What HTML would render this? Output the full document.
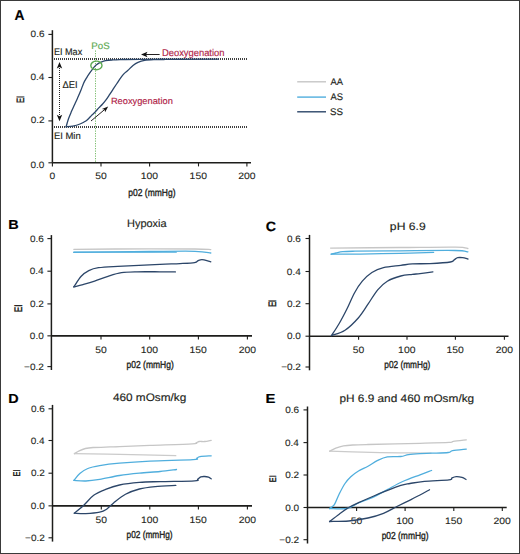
<!DOCTYPE html>
<html><head><meta charset="utf-8"><style>
html,body{margin:0;padding:0;background:#fff;}
#fig{position:relative;width:520px;height:554px;box-sizing:border-box;border:1px solid #3a3a3a;background:#fff;overflow:hidden;}
svg{position:absolute;left:-1px;top:-1px;}
text{font-family:"Liberation Sans", sans-serif;text-rendering:geometricPrecision;}
</style></head><body>
<div id="fig"><svg width="520" height="554" viewBox="0 0 520 554">
<text x="14.53" y="20.20" font-size="14.33" font-weight="bold" fill="#000" stroke="#000" stroke-width="0.15" textLength="9.96" lengthAdjust="spacingAndGlyphs">A</text>
<line x1="52.40" y1="30.20" x2="52.40" y2="162.80" stroke="#1d1d1b" stroke-width="1.5"/>
<line x1="48.40" y1="34.40" x2="52.40" y2="34.40" stroke="#1d1d1b" stroke-width="1.1"/>
<text x="30.60" y="36.90" font-size="9.38" fill="#231f20" stroke="#231f20" stroke-width="0.1" textLength="13.89" lengthAdjust="spacingAndGlyphs">0.6</text>
<line x1="48.40" y1="77.50" x2="52.40" y2="77.50" stroke="#1d1d1b" stroke-width="1.1"/>
<text x="30.45" y="80.00" font-size="9.38" fill="#231f20" stroke="#231f20" stroke-width="0.1" textLength="13.89" lengthAdjust="spacingAndGlyphs">0.4</text>
<line x1="48.40" y1="120.90" x2="52.40" y2="120.90" stroke="#1d1d1b" stroke-width="1.1"/>
<text x="30.66" y="123.30" font-size="9.38" fill="#231f20" stroke="#231f20" stroke-width="0.1" textLength="13.89" lengthAdjust="spacingAndGlyphs">0.2</text>
<line x1="48.40" y1="162.80" x2="52.40" y2="162.80" stroke="#1d1d1b" stroke-width="1.1"/>
<text x="30.55" y="167.70" font-size="9.38" fill="#231f20" stroke="#231f20" stroke-width="0.1" textLength="13.89" lengthAdjust="spacingAndGlyphs">0.0</text>
<line x1="52.40" y1="162.80" x2="251.00" y2="162.80" stroke="#1d1d1b" stroke-width="1.6"/>
<line x1="52.40" y1="162.80" x2="52.40" y2="166.40" stroke="#1d1d1b" stroke-width="1.1"/>
<text x="49.55" y="178.70" font-size="9.38" fill="#231f20" stroke="#231f20" stroke-width="0.1" textLength="5.70" lengthAdjust="spacingAndGlyphs">0</text>
<line x1="101.00" y1="162.80" x2="101.00" y2="166.40" stroke="#1d1d1b" stroke-width="1.1"/>
<text x="95.24" y="178.70" font-size="9.38" fill="#231f20" stroke="#231f20" stroke-width="0.1" textLength="11.52" lengthAdjust="spacingAndGlyphs">50</text>
<line x1="149.60" y1="162.80" x2="149.60" y2="166.40" stroke="#1d1d1b" stroke-width="1.1"/>
<text x="140.74" y="178.70" font-size="9.38" fill="#231f20" stroke="#231f20" stroke-width="0.1" textLength="17.33" lengthAdjust="spacingAndGlyphs">100</text>
<line x1="198.50" y1="162.80" x2="198.50" y2="166.40" stroke="#1d1d1b" stroke-width="1.1"/>
<text x="189.64" y="178.70" font-size="9.38" fill="#231f20" stroke="#231f20" stroke-width="0.1" textLength="17.33" lengthAdjust="spacingAndGlyphs">150</text>
<line x1="246.90" y1="162.80" x2="246.90" y2="166.40" stroke="#1d1d1b" stroke-width="1.1"/>
<text x="238.18" y="178.70" font-size="9.38" fill="#231f20" stroke="#231f20" stroke-width="0.1" textLength="17.33" lengthAdjust="spacingAndGlyphs">200</text>
<text x="128.33" y="195.50" font-size="10.09" fill="#231f20" stroke="#231f20" stroke-width="0.35" textLength="47.22" lengthAdjust="spacingAndGlyphs">p02 (mmHg)</text>
<text transform="translate(24.07,103.00) rotate(-90)" x="0" y="0" font-size="10.58" fill="#231f20" stroke="#231f20" stroke-width="0.45" textLength="7.17" lengthAdjust="spacingAndGlyphs">EI</text>
<path d="M54.00,58.20h1.0v1.6h-1.0zM56.00,58.20h1.0v1.6h-1.0zM58.00,58.20h1.0v1.6h-1.0zM60.00,58.20h1.0v1.6h-1.0zM62.00,58.20h1.0v1.6h-1.0zM64.00,58.20h1.0v1.6h-1.0zM66.00,58.20h1.0v1.6h-1.0zM68.00,58.20h1.0v1.6h-1.0zM70.00,58.20h1.0v1.6h-1.0zM72.00,58.20h1.0v1.6h-1.0zM74.00,58.20h1.0v1.6h-1.0zM76.00,58.20h1.0v1.6h-1.0zM78.00,58.20h1.0v1.6h-1.0zM80.00,58.20h1.0v1.6h-1.0zM82.00,58.20h1.0v1.6h-1.0zM84.00,58.20h1.0v1.6h-1.0zM86.00,58.20h1.0v1.6h-1.0zM88.00,58.20h1.0v1.6h-1.0zM90.00,58.20h1.0v1.6h-1.0zM92.00,58.20h1.0v1.6h-1.0zM94.00,58.20h1.0v1.6h-1.0zM96.00,58.20h1.0v1.6h-1.0zM98.00,58.20h1.0v1.6h-1.0zM100.00,58.20h1.0v1.6h-1.0zM102.00,58.20h1.0v1.6h-1.0zM104.00,58.20h1.0v1.6h-1.0zM106.00,58.20h1.0v1.6h-1.0zM108.00,58.20h1.0v1.6h-1.0zM110.00,58.20h1.0v1.6h-1.0zM112.00,58.20h1.0v1.6h-1.0zM114.00,58.20h1.0v1.6h-1.0zM116.00,58.20h1.0v1.6h-1.0zM118.00,58.20h1.0v1.6h-1.0zM120.00,58.20h1.0v1.6h-1.0zM122.00,58.20h1.0v1.6h-1.0zM124.00,58.20h1.0v1.6h-1.0zM126.00,58.20h1.0v1.6h-1.0zM128.00,58.20h1.0v1.6h-1.0zM130.00,58.20h1.0v1.6h-1.0zM132.00,58.20h1.0v1.6h-1.0zM134.00,58.20h1.0v1.6h-1.0zM136.00,58.20h1.0v1.6h-1.0zM138.00,58.20h1.0v1.6h-1.0zM140.00,58.20h1.0v1.6h-1.0zM142.00,58.20h1.0v1.6h-1.0zM144.00,58.20h1.0v1.6h-1.0zM146.00,58.20h1.0v1.6h-1.0zM148.00,58.20h1.0v1.6h-1.0zM150.00,58.20h1.0v1.6h-1.0zM152.00,58.20h1.0v1.6h-1.0zM154.00,58.20h1.0v1.6h-1.0zM156.00,58.20h1.0v1.6h-1.0zM158.00,58.20h1.0v1.6h-1.0zM160.00,58.20h1.0v1.6h-1.0zM162.00,58.20h1.0v1.6h-1.0zM164.00,58.20h1.0v1.6h-1.0zM166.00,58.20h1.0v1.6h-1.0zM168.00,58.20h1.0v1.6h-1.0zM170.00,58.20h1.0v1.6h-1.0zM172.00,58.20h1.0v1.6h-1.0zM174.00,58.20h1.0v1.6h-1.0zM176.00,58.20h1.0v1.6h-1.0zM178.00,58.20h1.0v1.6h-1.0zM180.00,58.20h1.0v1.6h-1.0zM182.00,58.20h1.0v1.6h-1.0zM184.00,58.20h1.0v1.6h-1.0zM186.00,58.20h1.0v1.6h-1.0zM188.00,58.20h1.0v1.6h-1.0zM190.00,58.20h1.0v1.6h-1.0zM192.00,58.20h1.0v1.6h-1.0zM194.00,58.20h1.0v1.6h-1.0zM196.00,58.20h1.0v1.6h-1.0zM198.00,58.20h1.0v1.6h-1.0zM200.00,58.20h1.0v1.6h-1.0zM202.00,58.20h1.0v1.6h-1.0zM204.00,58.20h1.0v1.6h-1.0zM206.00,58.20h1.0v1.6h-1.0zM208.00,58.20h1.0v1.6h-1.0zM210.00,58.20h1.0v1.6h-1.0zM212.00,58.20h1.0v1.6h-1.0zM214.00,58.20h1.0v1.6h-1.0zM216.00,58.20h1.0v1.6h-1.0zM218.00,58.20h1.0v1.6h-1.0zM220.00,58.20h1.0v1.6h-1.0zM222.00,58.20h1.0v1.6h-1.0zM224.00,58.20h1.0v1.6h-1.0zM226.00,58.20h1.0v1.6h-1.0zM228.00,58.20h1.0v1.6h-1.0zM230.00,58.20h1.0v1.6h-1.0zM232.00,58.20h1.0v1.6h-1.0zM234.00,58.20h1.0v1.6h-1.0zM236.00,58.20h1.0v1.6h-1.0zM238.00,58.20h1.0v1.6h-1.0zM240.00,58.20h1.0v1.6h-1.0zM242.00,58.20h1.0v1.6h-1.0zM244.00,58.20h1.0v1.6h-1.0zM246.00,58.20h1.0v1.6h-1.0z" fill="#000"/>
<path d="M54.00,126.20h1.0v1.6h-1.0zM56.00,126.20h1.0v1.6h-1.0zM58.00,126.20h1.0v1.6h-1.0zM60.00,126.20h1.0v1.6h-1.0zM62.00,126.20h1.0v1.6h-1.0zM64.00,126.20h1.0v1.6h-1.0zM66.00,126.20h1.0v1.6h-1.0zM68.00,126.20h1.0v1.6h-1.0zM70.00,126.20h1.0v1.6h-1.0zM72.00,126.20h1.0v1.6h-1.0zM74.00,126.20h1.0v1.6h-1.0zM76.00,126.20h1.0v1.6h-1.0zM78.00,126.20h1.0v1.6h-1.0zM80.00,126.20h1.0v1.6h-1.0zM82.00,126.20h1.0v1.6h-1.0zM84.00,126.20h1.0v1.6h-1.0zM86.00,126.20h1.0v1.6h-1.0zM88.00,126.20h1.0v1.6h-1.0zM90.00,126.20h1.0v1.6h-1.0zM92.00,126.20h1.0v1.6h-1.0zM94.00,126.20h1.0v1.6h-1.0zM96.00,126.20h1.0v1.6h-1.0zM98.00,126.20h1.0v1.6h-1.0zM100.00,126.20h1.0v1.6h-1.0zM102.00,126.20h1.0v1.6h-1.0zM104.00,126.20h1.0v1.6h-1.0zM106.00,126.20h1.0v1.6h-1.0zM108.00,126.20h1.0v1.6h-1.0zM110.00,126.20h1.0v1.6h-1.0zM112.00,126.20h1.0v1.6h-1.0zM114.00,126.20h1.0v1.6h-1.0zM116.00,126.20h1.0v1.6h-1.0zM118.00,126.20h1.0v1.6h-1.0zM120.00,126.20h1.0v1.6h-1.0zM122.00,126.20h1.0v1.6h-1.0zM124.00,126.20h1.0v1.6h-1.0zM126.00,126.20h1.0v1.6h-1.0zM128.00,126.20h1.0v1.6h-1.0zM130.00,126.20h1.0v1.6h-1.0zM132.00,126.20h1.0v1.6h-1.0zM134.00,126.20h1.0v1.6h-1.0zM136.00,126.20h1.0v1.6h-1.0zM138.00,126.20h1.0v1.6h-1.0zM140.00,126.20h1.0v1.6h-1.0zM142.00,126.20h1.0v1.6h-1.0zM144.00,126.20h1.0v1.6h-1.0zM146.00,126.20h1.0v1.6h-1.0zM148.00,126.20h1.0v1.6h-1.0zM150.00,126.20h1.0v1.6h-1.0zM152.00,126.20h1.0v1.6h-1.0zM154.00,126.20h1.0v1.6h-1.0zM156.00,126.20h1.0v1.6h-1.0zM158.00,126.20h1.0v1.6h-1.0zM160.00,126.20h1.0v1.6h-1.0zM162.00,126.20h1.0v1.6h-1.0zM164.00,126.20h1.0v1.6h-1.0zM166.00,126.20h1.0v1.6h-1.0zM168.00,126.20h1.0v1.6h-1.0zM170.00,126.20h1.0v1.6h-1.0zM172.00,126.20h1.0v1.6h-1.0zM174.00,126.20h1.0v1.6h-1.0zM176.00,126.20h1.0v1.6h-1.0zM178.00,126.20h1.0v1.6h-1.0zM180.00,126.20h1.0v1.6h-1.0zM182.00,126.20h1.0v1.6h-1.0zM184.00,126.20h1.0v1.6h-1.0zM186.00,126.20h1.0v1.6h-1.0zM188.00,126.20h1.0v1.6h-1.0zM190.00,126.20h1.0v1.6h-1.0zM192.00,126.20h1.0v1.6h-1.0zM194.00,126.20h1.0v1.6h-1.0zM196.00,126.20h1.0v1.6h-1.0zM198.00,126.20h1.0v1.6h-1.0zM200.00,126.20h1.0v1.6h-1.0zM202.00,126.20h1.0v1.6h-1.0zM204.00,126.20h1.0v1.6h-1.0zM206.00,126.20h1.0v1.6h-1.0zM208.00,126.20h1.0v1.6h-1.0zM210.00,126.20h1.0v1.6h-1.0zM212.00,126.20h1.0v1.6h-1.0zM214.00,126.20h1.0v1.6h-1.0zM216.00,126.20h1.0v1.6h-1.0zM218.00,126.20h1.0v1.6h-1.0zM220.00,126.20h1.0v1.6h-1.0zM222.00,126.20h1.0v1.6h-1.0zM224.00,126.20h1.0v1.6h-1.0zM226.00,126.20h1.0v1.6h-1.0zM228.00,126.20h1.0v1.6h-1.0zM230.00,126.20h1.0v1.6h-1.0zM232.00,126.20h1.0v1.6h-1.0zM234.00,126.20h1.0v1.6h-1.0zM236.00,126.20h1.0v1.6h-1.0zM238.00,126.20h1.0v1.6h-1.0zM240.00,126.20h1.0v1.6h-1.0zM242.00,126.20h1.0v1.6h-1.0zM244.00,126.20h1.0v1.6h-1.0zM246.00,126.20h1.0v1.6h-1.0z" fill="#000"/>
<path d="M95.00,50.50h1.0v1.2h-1.0zM95.00,53.00h1.0v1.2h-1.0zM95.00,55.50h1.0v1.2h-1.0zM95.00,58.00h1.0v1.2h-1.0zM95.00,60.50h1.0v1.2h-1.0zM95.00,63.00h1.0v1.2h-1.0zM95.00,65.50h1.0v1.2h-1.0zM95.00,68.00h1.0v1.2h-1.0zM95.00,70.50h1.0v1.2h-1.0zM95.00,73.00h1.0v1.2h-1.0zM95.00,75.50h1.0v1.2h-1.0zM95.00,78.00h1.0v1.2h-1.0zM95.00,80.50h1.0v1.2h-1.0zM95.00,83.00h1.0v1.2h-1.0zM95.00,85.50h1.0v1.2h-1.0zM95.00,88.00h1.0v1.2h-1.0zM95.00,90.50h1.0v1.2h-1.0zM95.00,93.00h1.0v1.2h-1.0zM95.00,95.50h1.0v1.2h-1.0zM95.00,98.00h1.0v1.2h-1.0zM95.00,100.50h1.0v1.2h-1.0zM95.00,103.00h1.0v1.2h-1.0zM95.00,105.50h1.0v1.2h-1.0zM95.00,108.00h1.0v1.2h-1.0zM95.00,110.50h1.0v1.2h-1.0zM95.00,113.00h1.0v1.2h-1.0zM95.00,115.50h1.0v1.2h-1.0zM95.00,118.00h1.0v1.2h-1.0zM95.00,120.50h1.0v1.2h-1.0zM95.00,123.00h1.0v1.2h-1.0zM95.00,125.50h1.0v1.2h-1.0zM95.00,128.00h1.0v1.2h-1.0zM95.00,130.50h1.0v1.2h-1.0zM95.00,133.00h1.0v1.2h-1.0zM95.00,135.50h1.0v1.2h-1.0zM95.00,138.00h1.0v1.2h-1.0zM95.00,140.50h1.0v1.2h-1.0zM95.00,143.00h1.0v1.2h-1.0zM95.00,145.50h1.0v1.2h-1.0zM95.00,148.00h1.0v1.2h-1.0zM95.00,150.50h1.0v1.2h-1.0zM95.00,153.00h1.0v1.2h-1.0zM95.00,155.50h1.0v1.2h-1.0zM95.00,158.00h1.0v1.2h-1.0zM95.00,160.50h1.0v1.2h-1.0z" fill="#7cbd6e"/>
<path d="M66.10,126.80C66.50,125.47 67.62,121.33 68.50,118.80C69.38,116.27 70.42,113.90 71.40,111.60C72.38,109.30 73.38,107.23 74.40,105.00C75.42,102.77 76.45,100.57 77.50,98.20C78.55,95.83 79.68,93.30 80.70,90.80C81.72,88.30 82.62,85.37 83.60,83.20C84.58,81.03 85.60,79.47 86.60,77.80C87.60,76.13 88.63,74.60 89.60,73.20C90.57,71.80 91.47,70.62 92.40,69.40C93.33,68.18 94.25,66.87 95.20,65.90C96.15,64.93 97.02,64.28 98.10,63.60C99.18,62.92 100.47,62.28 101.70,61.80C102.93,61.32 103.78,61.00 105.50,60.70C107.22,60.40 109.58,60.18 112.00,60.00C114.42,59.82 115.33,59.72 120.00,59.60C124.67,59.48 123.58,59.37 140.00,59.30C156.42,59.23 205.42,59.22 218.50,59.20" fill="none" stroke="#2c4669" stroke-width="1.3" stroke-linejoin="round" stroke-linecap="round"/>
<path d="M66.10,126.80C67.22,126.68 70.48,126.57 72.80,126.10C75.12,125.63 77.83,124.85 80.00,124.00C82.17,123.15 84.38,121.88 85.80,121.00C87.22,120.12 87.53,119.63 88.50,118.70C89.47,117.77 90.48,116.52 91.60,115.40C92.72,114.28 94.00,113.25 95.20,112.00C96.40,110.75 97.60,109.20 98.80,107.90C100.00,106.60 101.20,105.55 102.40,104.20C103.60,102.85 104.78,101.43 106.00,99.80C107.22,98.17 108.48,96.21 109.70,94.40C110.92,92.59 112.10,90.77 113.30,88.95C114.50,87.13 115.70,85.31 116.90,83.50C118.10,81.69 119.30,79.75 120.50,78.10C121.70,76.45 122.90,74.85 124.10,73.60C125.30,72.35 126.22,71.95 127.70,70.60C129.18,69.25 131.28,66.88 133.00,65.50C134.72,64.12 136.07,63.17 138.00,62.30C139.93,61.43 141.77,60.75 144.60,60.30C147.43,59.85 151.72,59.73 155.00,59.60C158.28,59.47 162.75,59.52 164.30,59.50" fill="none" stroke="#2c4669" stroke-width="1.3" stroke-linejoin="round" stroke-linecap="round"/>
<ellipse cx="96.4" cy="65.4" rx="5.6" ry="4.3" fill="none" stroke="#5caa52" stroke-width="1.4"/>
<text x="91.28" y="49.00" font-size="9.43" fill="#5caa52" stroke="#5caa52" stroke-width="0.15" textLength="18.40" lengthAdjust="spacingAndGlyphs">PoS</text>
<text x="53.93" y="55.40" font-size="9.63" fill="#231f20" stroke="#231f20" stroke-width="0.15" textLength="28.29" lengthAdjust="spacingAndGlyphs">EI Max</text>
<text x="53.90" y="138.80" font-size="9.43" fill="#231f20" stroke="#231f20" stroke-width="0.15" textLength="26.84" lengthAdjust="spacingAndGlyphs">EI Min</text>
<text x="62.60" y="87.50" font-size="9.73" fill="#231f20" stroke="#231f20" stroke-width="0.15" textLength="15.09" lengthAdjust="spacingAndGlyphs">ΔEI</text>
<text x="162.01" y="55.70" font-size="9.83" fill="#b01e48" stroke="#b01e48" stroke-width="0.15" textLength="62.43" lengthAdjust="spacingAndGlyphs">Deoxygenation</text>
<text x="110.91" y="104.20" font-size="9.13" fill="#b01e48" stroke="#b01e48" stroke-width="0.15" textLength="61.91" lengthAdjust="spacingAndGlyphs">Reoxygenation</text>
<path d="M59.00,66.00h1.0v1.0h-1.0zM59.00,68.00h1.0v1.0h-1.0zM59.00,70.00h1.0v1.0h-1.0zM59.00,72.00h1.0v1.0h-1.0zM59.00,74.00h1.0v1.0h-1.0zM59.00,76.00h1.0v1.0h-1.0zM59.00,78.00h1.0v1.0h-1.0zM59.00,80.00h1.0v1.0h-1.0zM59.00,82.00h1.0v1.0h-1.0zM59.00,84.00h1.0v1.0h-1.0zM59.00,86.00h1.0v1.0h-1.0zM59.00,88.00h1.0v1.0h-1.0zM59.00,90.00h1.0v1.0h-1.0zM59.00,92.00h1.0v1.0h-1.0zM59.00,94.00h1.0v1.0h-1.0zM59.00,96.00h1.0v1.0h-1.0zM59.00,98.00h1.0v1.0h-1.0zM59.00,100.00h1.0v1.0h-1.0zM59.00,102.00h1.0v1.0h-1.0zM59.00,104.00h1.0v1.0h-1.0zM59.00,106.00h1.0v1.0h-1.0zM59.00,108.00h1.0v1.0h-1.0zM59.00,110.00h1.0v1.0h-1.0zM59.00,112.00h1.0v1.0h-1.0zM59.00,114.00h1.0v1.0h-1.0z" fill="#222"/>
<path d="M59.5,62 L56.8,68.5 L59.5,67 L62.2,68.5 Z" fill="#111"/>
<path d="M59.5,121.3 L56.8,114.8 L59.5,116.3 L62.2,114.8 Z" fill="#111"/>
<line x1="144.00" y1="54.50" x2="159.60" y2="54.50" stroke="#231f20" stroke-width="1.0"/>
<path d="M141,54.5 L147.5,51.8 L146,54.5 L147.5,57.2 Z" fill="#111"/>
<line x1="91.00" y1="121.00" x2="105.50" y2="108.80" stroke="#231f20" stroke-width="1.0"/>
<path d="M108.2,106.5 L101.9,109.1 L104.6,109.6 L105.1,112.3 Z" fill="#111"/>
<line x1="297.20" y1="81.80" x2="326.00" y2="81.80" stroke="#c6c6c6" stroke-width="1.4"/>
<line x1="297.20" y1="97.10" x2="326.00" y2="97.10" stroke="#50aedd" stroke-width="1.4"/>
<line x1="297.20" y1="111.80" x2="326.00" y2="111.80" stroke="#2c4669" stroke-width="1.4"/>
<text x="330.46" y="84.70" font-size="9.63" fill="#231f20" stroke="#231f20" stroke-width="0.15" textLength="12.49" lengthAdjust="spacingAndGlyphs">AA</text>
<text x="330.46" y="99.50" font-size="9.63" fill="#231f20" stroke="#231f20" stroke-width="0.15" textLength="12.50" lengthAdjust="spacingAndGlyphs">AS</text>
<text x="330.03" y="114.50" font-size="9.63" fill="#231f20" stroke="#231f20" stroke-width="0.15" textLength="12.94" lengthAdjust="spacingAndGlyphs">SS</text>
<text x="8.30" y="228.80" font-size="13.03" font-weight="bold" fill="#000" stroke="#000" stroke-width="0.15" textLength="10.48" lengthAdjust="spacingAndGlyphs">B</text>
<line x1="51.40" y1="235.10" x2="51.40" y2="370.00" stroke="#1d1d1b" stroke-width="1.5"/>
<line x1="47.40" y1="238.60" x2="51.40" y2="238.60" stroke="#1d1d1b" stroke-width="1.1"/>
<text x="29.90" y="241.70" font-size="9.38" fill="#231f20" stroke="#231f20" stroke-width="0.1" textLength="13.89" lengthAdjust="spacingAndGlyphs">0.6</text>
<line x1="47.40" y1="271.20" x2="51.40" y2="271.20" stroke="#1d1d1b" stroke-width="1.1"/>
<text x="29.75" y="274.30" font-size="9.38" fill="#231f20" stroke="#231f20" stroke-width="0.1" textLength="13.89" lengthAdjust="spacingAndGlyphs">0.4</text>
<line x1="47.40" y1="303.90" x2="51.40" y2="303.90" stroke="#1d1d1b" stroke-width="1.1"/>
<text x="29.96" y="307.00" font-size="9.38" fill="#231f20" stroke="#231f20" stroke-width="0.1" textLength="13.89" lengthAdjust="spacingAndGlyphs">0.2</text>
<line x1="47.40" y1="335.85" x2="51.40" y2="335.85" stroke="#1d1d1b" stroke-width="1.1"/>
<text x="29.85" y="338.95" font-size="9.38" fill="#231f20" stroke="#231f20" stroke-width="0.1" textLength="13.89" lengthAdjust="spacingAndGlyphs">0.0</text>
<line x1="47.40" y1="366.60" x2="51.40" y2="366.60" stroke="#1d1d1b" stroke-width="1.1"/>
<text x="24.08" y="369.70" font-size="9.38" fill="#231f20" stroke="#231f20" stroke-width="0.1" textLength="19.77" lengthAdjust="spacingAndGlyphs">−0.2</text>
<line x1="51.40" y1="335.85" x2="252.00" y2="335.85" stroke="#1d1d1b" stroke-width="1.6"/>
<line x1="101.00" y1="335.85" x2="101.00" y2="339.45" stroke="#1d1d1b" stroke-width="1.1"/>
<text x="95.24" y="352.90" font-size="9.38" fill="#231f20" stroke="#231f20" stroke-width="0.1" textLength="11.52" lengthAdjust="spacingAndGlyphs">50</text>
<line x1="149.70" y1="335.85" x2="149.70" y2="339.45" stroke="#1d1d1b" stroke-width="1.1"/>
<text x="140.84" y="352.90" font-size="9.38" fill="#231f20" stroke="#231f20" stroke-width="0.1" textLength="17.33" lengthAdjust="spacingAndGlyphs">100</text>
<line x1="198.40" y1="335.85" x2="198.40" y2="339.45" stroke="#1d1d1b" stroke-width="1.1"/>
<text x="189.54" y="352.90" font-size="9.38" fill="#231f20" stroke="#231f20" stroke-width="0.1" textLength="17.33" lengthAdjust="spacingAndGlyphs">150</text>
<line x1="247.40" y1="335.85" x2="247.40" y2="339.45" stroke="#1d1d1b" stroke-width="1.1"/>
<text x="238.68" y="352.90" font-size="9.38" fill="#231f20" stroke="#231f20" stroke-width="0.1" textLength="17.33" lengthAdjust="spacingAndGlyphs">200</text>
<text x="126.53" y="368.00" font-size="10.09" fill="#231f20" stroke="#231f20" stroke-width="0.35" textLength="47.22" lengthAdjust="spacingAndGlyphs">p02 (mmHg)</text>
<text transform="translate(21.57,312.14) rotate(-90)" x="0" y="0" font-size="10.88" fill="#231f20" stroke="#231f20" stroke-width="0.45" textLength="7.66" lengthAdjust="spacingAndGlyphs">EI</text>
<text x="126.97" y="226.50" font-size="10.83" fill="#231f20" stroke="#231f20" stroke-width="0.15" textLength="39.65" lengthAdjust="spacingAndGlyphs">Hypoxia</text>
<path d="M73.80,249.30C86.50,249.22 129.80,248.85 150.00,248.80C170.20,248.75 184.87,248.87 195.00,249.00C205.13,249.13 208.17,249.50 210.80,249.60" fill="none" stroke="#c6c6c6" stroke-width="1.3" stroke-linejoin="round" stroke-linecap="round"/>
<path d="M73.80,252.20L176.20,252.20" fill="none" stroke="#50aedd" stroke-width="1.3" stroke-linejoin="round" stroke-linecap="round"/>
<path d="M73.80,252.40C86.50,252.25 129.80,251.68 150.00,251.50C170.20,251.32 184.87,251.05 195.00,251.30C205.13,251.55 208.17,252.72 210.80,253.00" fill="none" stroke="#50aedd" stroke-width="1.3" stroke-linejoin="round" stroke-linecap="round"/>
<path d="M73.80,286.90C75.03,285.13 78.70,279.02 81.20,276.30C83.70,273.58 85.92,272.03 88.80,270.60C91.68,269.17 93.68,268.42 98.50,267.70C103.32,266.98 107.45,266.85 117.70,266.30C127.95,265.75 149.62,264.85 160.00,264.40C170.38,263.95 174.23,263.90 180.00,263.60C185.77,263.30 191.63,263.07 194.60,262.60C197.57,262.13 196.82,261.27 197.80,260.80C198.78,260.33 199.47,259.95 200.50,259.80C201.53,259.65 202.28,259.55 204.00,259.90C205.72,260.25 209.67,261.57 210.80,261.90" fill="none" stroke="#2c4669" stroke-width="1.3" stroke-linejoin="round" stroke-linecap="round"/>
<path d="M73.80,286.90C75.33,286.52 79.53,285.55 83.00,284.60C86.47,283.65 90.43,282.58 94.60,281.20C98.77,279.82 103.52,277.72 108.00,276.30C112.48,274.88 116.67,273.45 121.50,272.70C126.33,271.95 130.58,271.95 137.00,271.80C143.42,271.65 153.60,271.78 160.00,271.80C166.40,271.82 172.83,271.88 175.40,271.90" fill="none" stroke="#2c4669" stroke-width="1.3" stroke-linejoin="round" stroke-linecap="round"/>
<text x="265.89" y="230.50" font-size="13.33" font-weight="bold" fill="#000" stroke="#000" stroke-width="0.15" textLength="10.33" lengthAdjust="spacingAndGlyphs">C</text>
<line x1="309.50" y1="234.90" x2="309.50" y2="370.30" stroke="#1d1d1b" stroke-width="1.5"/>
<line x1="305.50" y1="238.50" x2="309.50" y2="238.50" stroke="#1d1d1b" stroke-width="1.1"/>
<text x="287.00" y="241.60" font-size="9.38" fill="#231f20" stroke="#231f20" stroke-width="0.1" textLength="13.89" lengthAdjust="spacingAndGlyphs">0.6</text>
<line x1="305.50" y1="271.50" x2="309.50" y2="271.50" stroke="#1d1d1b" stroke-width="1.1"/>
<text x="286.85" y="274.60" font-size="9.38" fill="#231f20" stroke="#231f20" stroke-width="0.1" textLength="13.89" lengthAdjust="spacingAndGlyphs">0.4</text>
<line x1="305.50" y1="303.70" x2="309.50" y2="303.70" stroke="#1d1d1b" stroke-width="1.1"/>
<text x="287.06" y="306.80" font-size="9.38" fill="#231f20" stroke="#231f20" stroke-width="0.1" textLength="13.89" lengthAdjust="spacingAndGlyphs">0.2</text>
<line x1="305.50" y1="336.20" x2="309.50" y2="336.20" stroke="#1d1d1b" stroke-width="1.1"/>
<text x="286.95" y="339.30" font-size="9.38" fill="#231f20" stroke="#231f20" stroke-width="0.1" textLength="13.89" lengthAdjust="spacingAndGlyphs">0.0</text>
<line x1="305.50" y1="367.00" x2="309.50" y2="367.00" stroke="#1d1d1b" stroke-width="1.1"/>
<text x="281.18" y="370.10" font-size="9.38" fill="#231f20" stroke="#231f20" stroke-width="0.1" textLength="19.77" lengthAdjust="spacingAndGlyphs">−0.2</text>
<line x1="309.50" y1="336.20" x2="508.50" y2="336.20" stroke="#1d1d1b" stroke-width="1.6"/>
<line x1="358.60" y1="336.20" x2="358.60" y2="339.80" stroke="#1d1d1b" stroke-width="1.1"/>
<text x="352.84" y="353.20" font-size="9.38" fill="#231f20" stroke="#231f20" stroke-width="0.1" textLength="11.52" lengthAdjust="spacingAndGlyphs">50</text>
<line x1="407.00" y1="336.20" x2="407.00" y2="339.80" stroke="#1d1d1b" stroke-width="1.1"/>
<text x="398.14" y="353.20" font-size="9.38" fill="#231f20" stroke="#231f20" stroke-width="0.1" textLength="17.33" lengthAdjust="spacingAndGlyphs">100</text>
<line x1="455.40" y1="336.20" x2="455.40" y2="339.80" stroke="#1d1d1b" stroke-width="1.1"/>
<text x="446.54" y="353.20" font-size="9.38" fill="#231f20" stroke="#231f20" stroke-width="0.1" textLength="17.33" lengthAdjust="spacingAndGlyphs">150</text>
<line x1="504.40" y1="336.20" x2="504.40" y2="339.80" stroke="#1d1d1b" stroke-width="1.1"/>
<text x="495.68" y="353.20" font-size="9.38" fill="#231f20" stroke="#231f20" stroke-width="0.1" textLength="17.33" lengthAdjust="spacingAndGlyphs">200</text>
<text x="384.34" y="367.70" font-size="10.09" fill="#231f20" stroke="#231f20" stroke-width="0.35" textLength="46.00" lengthAdjust="spacingAndGlyphs">p02 (mmHg)</text>
<text transform="translate(275.57,307.12) rotate(-90)" x="0" y="0" font-size="10.78" fill="#231f20" stroke="#231f20" stroke-width="0.45" textLength="7.42" lengthAdjust="spacingAndGlyphs">EI</text>
<text x="389.89" y="229.90" font-size="10.73" fill="#231f20" stroke="#231f20" stroke-width="0.15" textLength="35.81" lengthAdjust="spacingAndGlyphs">pH 6.9</text>
<path d="M330.60,248.10C342.17,248.00 379.13,247.67 400.00,247.50C420.87,247.33 444.48,246.93 455.80,247.10C467.12,247.27 465.88,248.27 467.90,248.50" fill="none" stroke="#c6c6c6" stroke-width="1.3" stroke-linejoin="round" stroke-linecap="round"/>
<path d="M331.20,254.20C332.00,254.00 334.08,253.43 336.00,253.00C337.92,252.57 339.53,251.90 342.70,251.60C345.87,251.30 345.45,251.33 355.00,251.20C364.55,251.07 383.33,250.92 400.00,250.80C416.67,250.68 443.68,250.33 455.00,250.50C466.32,250.67 465.75,251.58 467.90,251.80" fill="none" stroke="#50aedd" stroke-width="1.3" stroke-linejoin="round" stroke-linecap="round"/>
<path d="M331.20,254.20C336.00,254.18 348.53,254.25 360.00,254.10C371.47,253.95 387.73,253.58 400.00,253.30C412.27,253.02 428.00,252.55 433.60,252.40" fill="none" stroke="#50aedd" stroke-width="1.3" stroke-linejoin="round" stroke-linecap="round"/>
<path d="M331.50,335.60C332.78,333.58 336.63,327.93 339.20,323.50C341.77,319.07 344.33,314.13 346.90,309.00C349.47,303.87 352.03,297.33 354.60,292.70C357.17,288.07 359.42,284.57 362.30,281.20C365.18,277.83 368.37,274.75 371.90,272.50C375.43,270.25 378.68,268.88 383.50,267.70C388.32,266.52 396.00,266.03 400.80,265.40C405.60,264.77 407.43,264.20 412.30,263.90C417.17,263.60 423.65,263.92 430.00,263.60C436.35,263.28 446.33,262.67 450.40,262.00C454.47,261.33 453.17,260.32 454.40,259.60C455.63,258.88 456.45,258.02 457.80,257.70C459.15,257.38 460.82,257.48 462.50,257.70C464.18,257.92 467.00,258.78 467.90,259.00" fill="none" stroke="#2c4669" stroke-width="1.3" stroke-linejoin="round" stroke-linecap="round"/>
<path d="M331.50,335.60C333.75,334.70 340.50,333.18 345.00,330.20C349.50,327.22 354.67,322.03 358.50,317.70C362.33,313.37 364.80,308.85 368.00,304.20C371.20,299.55 374.48,293.63 377.70,289.80C380.92,285.97 383.45,283.50 387.30,281.20C391.15,278.90 396.63,277.13 400.80,276.00C404.97,274.87 409.10,274.80 412.30,274.40C415.50,274.00 416.57,274.02 420.00,273.60C423.43,273.18 430.75,272.18 432.90,271.90" fill="none" stroke="#2c4669" stroke-width="1.3" stroke-linejoin="round" stroke-linecap="round"/>
<text x="8.31" y="402.80" font-size="13.03" font-weight="bold" fill="#000" stroke="#000" stroke-width="0.15" textLength="10.42" lengthAdjust="spacingAndGlyphs">D</text>
<line x1="52.50" y1="404.90" x2="52.50" y2="541.60" stroke="#1d1d1b" stroke-width="1.5"/>
<line x1="48.50" y1="408.80" x2="52.50" y2="408.80" stroke="#1d1d1b" stroke-width="1.1"/>
<text x="30.90" y="411.90" font-size="9.38" fill="#231f20" stroke="#231f20" stroke-width="0.1" textLength="13.89" lengthAdjust="spacingAndGlyphs">0.6</text>
<line x1="48.50" y1="440.50" x2="52.50" y2="440.50" stroke="#1d1d1b" stroke-width="1.1"/>
<text x="30.75" y="443.60" font-size="9.38" fill="#231f20" stroke="#231f20" stroke-width="0.1" textLength="13.89" lengthAdjust="spacingAndGlyphs">0.4</text>
<line x1="48.50" y1="473.20" x2="52.50" y2="473.20" stroke="#1d1d1b" stroke-width="1.1"/>
<text x="30.96" y="476.30" font-size="9.38" fill="#231f20" stroke="#231f20" stroke-width="0.1" textLength="13.89" lengthAdjust="spacingAndGlyphs">0.2</text>
<line x1="48.50" y1="505.85" x2="52.50" y2="505.85" stroke="#1d1d1b" stroke-width="1.1"/>
<text x="30.85" y="508.95" font-size="9.38" fill="#231f20" stroke="#231f20" stroke-width="0.1" textLength="13.89" lengthAdjust="spacingAndGlyphs">0.0</text>
<line x1="48.50" y1="537.80" x2="52.50" y2="537.80" stroke="#1d1d1b" stroke-width="1.1"/>
<text x="25.08" y="540.90" font-size="9.38" fill="#231f20" stroke="#231f20" stroke-width="0.1" textLength="19.77" lengthAdjust="spacingAndGlyphs">−0.2</text>
<line x1="52.50" y1="505.85" x2="252.00" y2="505.85" stroke="#1d1d1b" stroke-width="1.6"/>
<line x1="101.30" y1="505.85" x2="101.30" y2="509.45" stroke="#1d1d1b" stroke-width="1.1"/>
<text x="95.54" y="523.20" font-size="9.38" fill="#231f20" stroke="#231f20" stroke-width="0.1" textLength="11.52" lengthAdjust="spacingAndGlyphs">50</text>
<line x1="149.80" y1="505.85" x2="149.80" y2="509.45" stroke="#1d1d1b" stroke-width="1.1"/>
<text x="140.94" y="523.20" font-size="9.38" fill="#231f20" stroke="#231f20" stroke-width="0.1" textLength="17.33" lengthAdjust="spacingAndGlyphs">100</text>
<line x1="198.40" y1="505.85" x2="198.40" y2="509.45" stroke="#1d1d1b" stroke-width="1.1"/>
<text x="189.54" y="523.20" font-size="9.38" fill="#231f20" stroke="#231f20" stroke-width="0.1" textLength="17.33" lengthAdjust="spacingAndGlyphs">150</text>
<line x1="247.40" y1="505.85" x2="247.40" y2="509.45" stroke="#1d1d1b" stroke-width="1.1"/>
<text x="238.68" y="523.20" font-size="9.38" fill="#231f20" stroke="#231f20" stroke-width="0.1" textLength="17.33" lengthAdjust="spacingAndGlyphs">200</text>
<text x="126.54" y="537.70" font-size="10.09" fill="#231f20" stroke="#231f20" stroke-width="0.35" textLength="46.10" lengthAdjust="spacingAndGlyphs">p02 (mmHg)</text>
<text transform="translate(20.07,476.48) rotate(-90)" x="0" y="0" font-size="9.68" fill="#231f20" stroke="#231f20" stroke-width="0.45" textLength="6.93" lengthAdjust="spacingAndGlyphs">EI</text>
<text x="112.90" y="401.30" font-size="10.83" fill="#231f20" stroke="#231f20" stroke-width="0.15" textLength="73.38" lengthAdjust="spacingAndGlyphs">460 mOsm/kg</text>
<path d="M74.40,453.70C75.20,453.22 77.37,451.67 79.20,450.80C81.03,449.93 83.08,449.05 85.40,448.50C87.72,447.95 89.00,447.77 93.10,447.50C97.20,447.23 105.60,447.05 110.00,446.90C114.40,446.75 112.83,446.85 119.50,446.60C126.17,446.35 137.87,445.87 150.00,445.40C162.13,444.93 184.60,444.23 192.30,443.80C200.00,443.37 195.05,443.18 196.20,442.80C197.35,442.42 197.80,441.72 199.20,441.50C200.60,441.28 202.60,441.70 204.60,441.50C206.60,441.30 210.10,440.50 211.20,440.30" fill="none" stroke="#c6c6c6" stroke-width="1.3" stroke-linejoin="round" stroke-linecap="round"/>
<path d="M74.40,453.70C82.00,453.80 103.10,453.97 120.00,454.30C136.90,454.63 166.50,455.47 175.80,455.70" fill="none" stroke="#cbcbcb" stroke-width="1.3" stroke-linejoin="round" stroke-linecap="round"/>
<path d="M73.90,480.40C74.88,479.25 77.48,475.48 79.80,473.50C82.12,471.52 84.48,469.82 87.80,468.50C91.12,467.18 94.42,466.48 99.70,465.60C104.98,464.72 111.12,463.93 119.50,463.20C127.88,462.47 137.73,461.78 150.00,461.20C162.27,460.62 185.28,460.20 193.10,459.70C200.92,459.20 195.75,458.72 196.90,458.20C198.05,457.68 197.62,457.00 200.00,456.60C202.38,456.20 209.33,455.93 211.20,455.80" fill="none" stroke="#50aedd" stroke-width="1.3" stroke-linejoin="round" stroke-linecap="round"/>
<path d="M73.90,480.40C75.88,480.50 81.50,481.17 85.80,481.00C90.10,480.83 94.08,480.32 99.70,479.40C105.32,478.48 112.88,476.55 119.50,475.50C126.12,474.45 132.65,473.77 139.40,473.10C146.15,472.43 153.82,472.10 160.00,471.50C166.18,470.90 173.75,469.83 176.50,469.50" fill="none" stroke="#50aedd" stroke-width="1.3" stroke-linejoin="round" stroke-linecap="round"/>
<path d="M74.30,513.20C75.88,511.87 80.57,508.18 83.80,505.20C87.03,502.22 90.07,497.93 93.70,495.30C97.33,492.67 101.30,491.12 105.60,489.40C109.90,487.68 113.87,486.17 119.50,485.00C125.13,483.83 132.65,482.97 139.40,482.40C146.15,481.83 150.80,481.87 160.00,481.60C169.20,481.33 188.32,481.20 194.60,480.80C200.88,480.40 196.67,479.85 197.70,479.20C198.73,478.55 199.65,477.35 200.80,476.90C201.95,476.45 203.32,476.45 204.60,476.50C205.88,476.55 207.40,476.82 208.50,477.20C209.60,477.58 210.75,478.53 211.20,478.80" fill="none" stroke="#2c4669" stroke-width="1.3" stroke-linejoin="round" stroke-linecap="round"/>
<path d="M74.30,513.20C76.22,513.27 81.57,513.77 85.80,513.60C90.03,513.43 96.23,512.93 99.70,512.20C103.17,511.47 104.28,510.75 106.60,509.20C108.92,507.65 110.45,505.38 113.60,502.90C116.75,500.42 121.20,496.62 125.50,494.30C129.80,491.98 134.45,490.28 139.40,489.00C144.35,487.72 149.13,487.20 155.20,486.60C161.27,486.00 172.37,485.60 175.80,485.40" fill="none" stroke="#2c4669" stroke-width="1.3" stroke-linejoin="round" stroke-linecap="round"/>
<text x="265.48" y="403.20" font-size="13.03" font-weight="bold" fill="#000" stroke="#000" stroke-width="0.15" textLength="9.93" lengthAdjust="spacingAndGlyphs">E</text>
<line x1="307.50" y1="406.50" x2="307.50" y2="543.50" stroke="#1d1d1b" stroke-width="1.5"/>
<line x1="303.50" y1="409.90" x2="307.50" y2="409.90" stroke="#1d1d1b" stroke-width="1.1"/>
<text x="285.20" y="413.00" font-size="9.38" fill="#231f20" stroke="#231f20" stroke-width="0.1" textLength="13.89" lengthAdjust="spacingAndGlyphs">0.6</text>
<line x1="303.50" y1="442.60" x2="307.50" y2="442.60" stroke="#1d1d1b" stroke-width="1.1"/>
<text x="285.05" y="445.70" font-size="9.38" fill="#231f20" stroke="#231f20" stroke-width="0.1" textLength="13.89" lengthAdjust="spacingAndGlyphs">0.4</text>
<line x1="303.50" y1="475.00" x2="307.50" y2="475.00" stroke="#1d1d1b" stroke-width="1.1"/>
<text x="285.26" y="478.10" font-size="9.38" fill="#231f20" stroke="#231f20" stroke-width="0.1" textLength="13.89" lengthAdjust="spacingAndGlyphs">0.2</text>
<line x1="303.50" y1="507.50" x2="307.50" y2="507.50" stroke="#1d1d1b" stroke-width="1.1"/>
<text x="285.15" y="510.60" font-size="9.38" fill="#231f20" stroke="#231f20" stroke-width="0.1" textLength="13.89" lengthAdjust="spacingAndGlyphs">0.0</text>
<line x1="303.50" y1="539.70" x2="307.50" y2="539.70" stroke="#1d1d1b" stroke-width="1.1"/>
<text x="279.38" y="542.80" font-size="9.38" fill="#231f20" stroke="#231f20" stroke-width="0.1" textLength="19.77" lengthAdjust="spacingAndGlyphs">−0.2</text>
<line x1="307.50" y1="507.50" x2="506.70" y2="507.50" stroke="#1d1d1b" stroke-width="1.6"/>
<line x1="356.60" y1="507.50" x2="356.60" y2="511.10" stroke="#1d1d1b" stroke-width="1.1"/>
<text x="350.84" y="524.30" font-size="9.38" fill="#231f20" stroke="#231f20" stroke-width="0.1" textLength="11.52" lengthAdjust="spacingAndGlyphs">50</text>
<line x1="405.10" y1="507.50" x2="405.10" y2="511.10" stroke="#1d1d1b" stroke-width="1.1"/>
<text x="396.24" y="524.30" font-size="9.38" fill="#231f20" stroke="#231f20" stroke-width="0.1" textLength="17.33" lengthAdjust="spacingAndGlyphs">100</text>
<line x1="453.80" y1="507.50" x2="453.80" y2="511.10" stroke="#1d1d1b" stroke-width="1.1"/>
<text x="444.94" y="524.30" font-size="9.38" fill="#231f20" stroke="#231f20" stroke-width="0.1" textLength="17.33" lengthAdjust="spacingAndGlyphs">150</text>
<line x1="502.30" y1="507.50" x2="502.30" y2="511.10" stroke="#1d1d1b" stroke-width="1.1"/>
<text x="493.58" y="524.30" font-size="9.38" fill="#231f20" stroke="#231f20" stroke-width="0.1" textLength="17.33" lengthAdjust="spacingAndGlyphs">200</text>
<text x="381.63" y="538.90" font-size="10.09" fill="#231f20" stroke="#231f20" stroke-width="0.35" textLength="46.92" lengthAdjust="spacingAndGlyphs">p02 (mmHg)</text>
<text transform="translate(275.88,482.17) rotate(-90)" x="0" y="0" font-size="9.48" fill="#231f20" stroke="#231f20" stroke-width="0.45" textLength="6.81" lengthAdjust="spacingAndGlyphs">EI</text>
<text x="339.41" y="402.40" font-size="10.83" fill="#231f20" stroke="#231f20" stroke-width="0.15" textLength="134.77" lengthAdjust="spacingAndGlyphs">pH 6.9 and 460 mOsm/kg</text>
<path d="M329.70,451.20C330.72,450.68 333.50,448.98 335.80,448.10C338.10,447.22 340.67,446.42 343.50,445.90C346.33,445.38 348.72,445.23 352.80,445.00C356.88,444.77 356.80,444.78 368.00,444.50C379.20,444.22 406.50,443.65 420.00,443.30C433.50,442.95 443.45,442.72 449.00,442.40C454.55,442.08 450.42,441.82 453.30,441.40C456.18,440.98 464.13,440.15 466.30,439.90" fill="none" stroke="#c6c6c6" stroke-width="1.3" stroke-linejoin="round" stroke-linecap="round"/>
<path d="M329.70,451.20C335.08,451.37 350.28,451.93 362.00,452.20C373.72,452.47 388.50,452.63 400.00,452.80C411.50,452.97 425.83,453.13 431.00,453.20" fill="none" stroke="#cbcbcb" stroke-width="1.3" stroke-linejoin="round" stroke-linecap="round"/>
<path d="M329.60,508.50C330.40,507.85 332.80,507.02 334.40,504.60C336.00,502.18 337.43,497.52 339.20,494.00C340.97,490.48 343.07,486.38 345.00,483.50C346.93,480.62 348.55,478.78 350.80,476.70C353.05,474.62 355.63,472.75 358.50,471.00C361.37,469.25 364.80,467.97 368.00,466.20C371.20,464.43 374.48,461.95 377.70,460.40C380.92,458.85 383.45,457.55 387.30,456.90C391.15,456.25 397.27,456.88 400.80,456.50C404.33,456.12 405.30,455.08 408.50,454.60C411.70,454.12 416.15,453.83 420.00,453.60C423.85,453.37 426.90,453.38 431.60,453.20C436.30,453.02 444.70,452.93 448.20,452.50C451.70,452.07 449.58,451.17 452.60,450.60C455.62,450.03 464.02,449.35 466.30,449.10" fill="none" stroke="#50aedd" stroke-width="1.3" stroke-linejoin="round" stroke-linecap="round"/>
<path d="M329.60,508.50C332.48,508.50 342.08,509.42 346.90,508.50C351.72,507.58 354.02,504.93 358.50,503.00C362.98,501.07 369.00,499.13 373.80,496.90C378.60,494.67 382.48,492.17 387.30,489.60C392.12,487.03 397.25,483.97 402.70,481.50C408.15,479.03 415.18,476.63 420.00,474.80C424.82,472.97 429.67,471.22 431.60,470.50" fill="none" stroke="#50aedd" stroke-width="1.3" stroke-linejoin="round" stroke-linecap="round"/>
<path d="M329.60,521.50C331.20,520.28 336.00,516.53 339.20,514.20C342.40,511.87 345.58,509.42 348.80,507.50C352.02,505.58 354.33,504.62 358.50,502.70C362.67,500.78 369.32,497.92 373.80,496.00C378.28,494.08 380.90,492.97 385.40,491.20C389.90,489.43 396.70,486.68 400.80,485.40C404.90,484.12 406.07,484.18 410.00,483.50C413.93,482.82 417.90,481.90 424.40,481.30C430.90,480.70 444.43,480.45 449.00,479.90C453.57,479.35 450.60,478.55 451.80,478.00C453.00,477.45 454.50,476.70 456.20,476.60C457.90,476.50 460.37,476.92 462.00,477.40C463.63,477.88 465.33,479.15 466.00,479.50" fill="none" stroke="#2c4669" stroke-width="1.3" stroke-linejoin="round" stroke-linecap="round"/>
<path d="M329.60,521.50C332.80,521.42 342.40,521.58 348.80,521.00C355.20,520.42 362.22,519.28 368.00,518.00C373.78,516.72 378.68,515.22 383.50,513.30C388.32,511.38 392.73,508.58 396.90,506.50C401.07,504.42 404.65,502.72 408.50,500.80C412.35,498.88 416.50,496.85 420.00,495.00C423.50,493.15 427.92,490.58 429.50,489.70" fill="none" stroke="#2c4669" stroke-width="1.3" stroke-linejoin="round" stroke-linecap="round"/>
</svg></div>
</body></html>
